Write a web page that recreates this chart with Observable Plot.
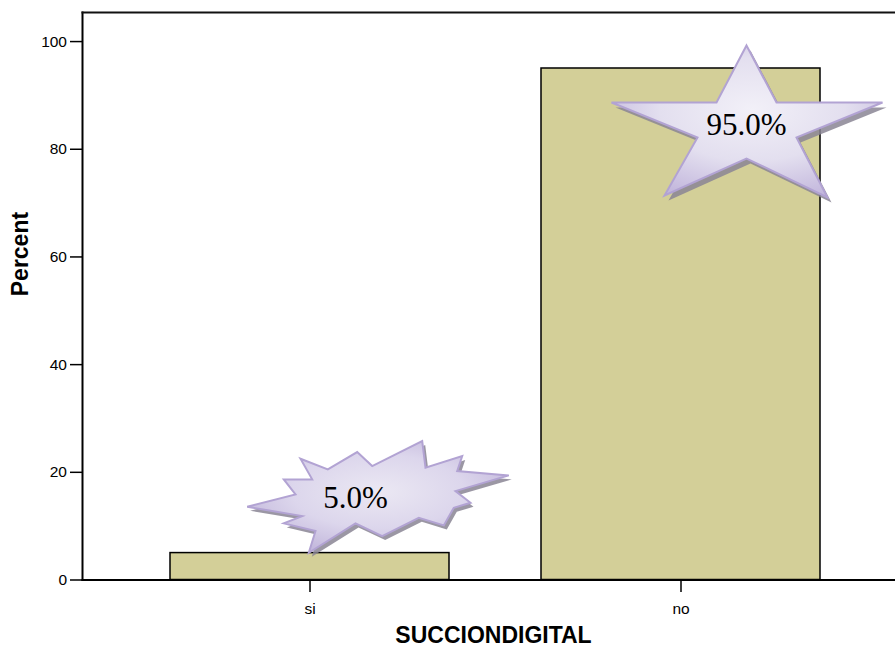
<!DOCTYPE html>
<html>
<head>
<meta charset="utf-8">
<script src="https://cdn.jsdelivr.net/npm/d3@7"></script>
<script src="https://cdn.jsdelivr.net/npm/@observablehq/plot@0.6"></script>
<style>
  html, body { margin: 0; padding: 0; background: #fff; overflow: hidden; }
</style>
</head>
<body>
<div id="chart"></div>
<script>
// Frequency of digital sucking (percent of cases)
const categories = ["si", "no"];
const percents = [5.0, 95.0];
const yTicks = [0, 20, 40, 60, 80, 100];
const yMax = 105.4;
const xTitle = "SUCCIONDIGITAL";
const yTitle = "Percent";

const rows = categories.map((category, i) => ({category, percent: percents[i]}));

// Callout outlines in px, around the centre of each callout's label
const starOutline = [
  [0, -80], [30, -23], [136, -23], [50, 12], [81, 72],
  [0, 33], [-82, 70], [-49, 12], [-135, -23], [-30, -23]
];
const burstOutline = [
  [-55, -39.3], [-27.7, -28.7], [1.7, -46], [16.7, -32], [66.7, -57],
  [70, -30.3], [106.7, -42], [101.7, -27], [153.3, -22.7], [100, -7],
  [115, 4.7], [98.3, 9.7], [88.3, 27.3], [63.3, 19.7], [26.7, 38],
  [0, 25.3], [-46.7, 54.7], [-40, 33], [-71.7, 25.3], [-53.3, 18],
  [-108.3, 8.7], [-60, -3.7], [-71.7, -18.7], [-43.3, -18.7]
];

const polygonSymbol = (points) => ({
  draw(context) {
    points.forEach(([x, y], i) => (i ? context.lineTo(x, y) : context.moveTo(x, y)));
    context.closePath();
  }
});

// Gradients for the callout fills
const gradients = () => {
  const defs = document.createElementNS("http://www.w3.org/2000/svg", "defs");
  defs.innerHTML = `
    <radialGradient id="starFill" cx="52%" cy="42%" r="62%">
      <stop offset="0%" stop-color="#f2f0f8"/>
      <stop offset="55%" stop-color="#e3dfef"/>
      <stop offset="100%" stop-color="#c2b6dc"/>
    </radialGradient>
    <radialGradient id="burstFill" cx="50%" cy="45%" r="60%">
      <stop offset="0%" stop-color="#ebe8f3"/>
      <stop offset="55%" stop-color="#dcd6ec"/>
      <stop offset="100%" stop-color="#c0b4da"/>
    </radialGradient>`;
  return defs;
};

const label = (d) => `${d.percent.toFixed(1)}%`;
const starRows = rows.filter((d) => d.category === "no");
const burstRows = rows.filter((d) => d.category === "si");

const starOffset = {dx: 65.5, dy: 57};
const burstOffset = {dx: 45.5, dy: -55};
const serif = "'Liberation Serif', 'Times New Roman', serif";

const chart = Plot.plot({
  width: 895,
  height: 646,
  marginLeft: 82,
  marginRight: 0,
  marginTop: 12,
  marginBottom: 66.5,
  style: {
    fontFamily: "'Liberation Sans', Arial, sans-serif",
    fontSize: "15.5px",
    background: "#ffffff",
    color: "#000000"
  },
  x: {domain: categories, range: [82, 908.5], paddingInner: 0.249, paddingOuter: 0.237},
  y: {domain: [0, yMax]},
  marks: [
    gradients,
    Plot.barY(rows, {x: "category", y: "percent", fill: "#d3cf98", stroke: "#000000", strokeWidth: 1.5}),
    Plot.frame({anchor: "left", stroke: "#000000", strokeWidth: 2}),
    Plot.frame({anchor: "top", stroke: "#111111", strokeWidth: 2}),
    Plot.frame({anchor: "bottom", stroke: "#000000", strokeWidth: 2}),
    Plot.axisY({ticks: yTicks, tickSize: 12, tickPadding: 3.5, label: null, strokeWidth: 1.5, fontSize: 15.5}),
    Plot.axisX({tickSize: 12.5, tickPadding: 10, label: null, strokeWidth: 1.5, fontSize: 15.5}),
    Plot.text([yTitle], {
      text: (d) => d, frameAnchor: "left", rotate: -90, lineAnchor: "bottom",
      dx: -54.5, fontWeight: "bold", fontSize: 23
    }),
    Plot.text([xTitle], {
      text: (d) => d, frameAnchor: "bottom", lineAnchor: "bottom",
      dx: 4.5, dy: 62.5, fontWeight: "bold", fontSize: 23
    }),
    // burst callout for "si"
    Plot.dot(burstRows, {
      x: "category", y: "percent", symbol: polygonSymbol(burstOutline),
      fill: "#8a8594", fillOpacity: 0.85, stroke: "none",
      dx: burstOffset.dx + 3, dy: burstOffset.dy + 4
    }),
    Plot.dot(burstRows, {
      x: "category", y: "percent", symbol: polygonSymbol(burstOutline),
      fill: "url(#burstFill)", stroke: "#b2a3d3", strokeWidth: 2, ...burstOffset
    }),
    Plot.text(burstRows, {
      x: "category", y: "percent", text: label, ...burstOffset,
      fontFamily: serif, fontSize: 31, fill: "#000000"
    }),
    // star callout for "no"
    Plot.dot(starRows, {
      x: "category", y: "percent", symbol: polygonSymbol(starOutline),
      fill: "#8a8594", fillOpacity: 0.85, stroke: "none",
      dx: starOffset.dx + 4, dy: starOffset.dy + 5
    }),
    Plot.dot(starRows, {
      x: "category", y: "percent", symbol: polygonSymbol(starOutline),
      fill: "url(#starFill)", stroke: "#b2a3d3", strokeWidth: 2, ...starOffset
    }),
    Plot.text(starRows, {
      x: "category", y: "percent", text: label, ...starOffset,
      fontFamily: serif, fontSize: 31, fill: "#000000"
    })
  ]
});

document.getElementById("chart").appendChild(chart);
</script>
</body>
</html>
